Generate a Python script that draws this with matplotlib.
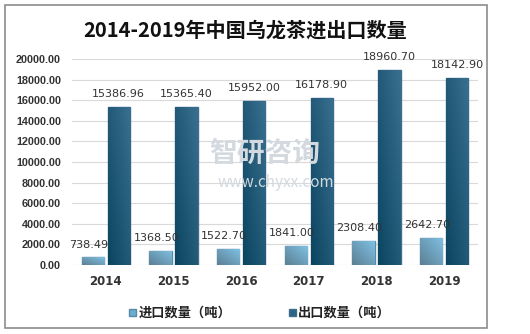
import matplotlib.pyplot as plt
import numpy as np
from matplotlib.patches import Rectangle
from matplotlib.colors import LinearSegmentedColormap

plt.rcParams['font.family'] = ['Noto Sans CJK SC', 'DejaVu Sans']

years = ['2014', '2015', '2016', '2017', '2018', '2019']
imports = [738.49, 1368.50, 1522.70, 1841.00, 2308.40, 2642.70]
exports = [15386.96, 15365.40, 15952.00, 16178.90, 18960.70, 18142.90]
yticks = [0, 2000, 4000, 6000, 8000, 10000, 12000, 14000, 16000, 18000, 20000]


def gradient_bars(ax, bars, c0, c1):
    # fill each bar with a diagonal gradient clipped to its outline
    grad = np.linspace(0, 1, 64)
    img = (grad[None, :] + grad[:, None]) / 2
    cmap = LinearSegmentedColormap.from_list('g', [c0, c1])
    for b in bars:
        x, y = b.get_x(), b.get_y()
        w, h = b.get_width(), b.get_height()
        im = ax.imshow(img, extent=[x, x + w, y, y + h], cmap=cmap,
                       aspect='auto', origin='lower', zorder=b.get_zorder())
        im.set_clip_path(b)
        b.set_facecolor('none')


fig = plt.figure(figsize=(5.30, 3.34), dpi=100)
fig.patches.append(Rectangle((5 / 530, 1 - 328 / 334), 482 / 530, 323 / 334,
                             transform=fig.transFigure, fill=False,
                             edgecolor='#8c8c8c', linewidth=1.2))

ax = fig.add_axes([72 / 530, 1 - 265 / 334, 406 / 530, 206 / 334])
x = np.arange(len(years))
w = 0.33
b1 = ax.bar(x - 0.19, imports, w, color='#6aaed0', edgecolor='#5a8aa5',
            linewidth=1, zorder=3, label='进口数量（吨）')
b2 = ax.bar(x + 0.19, exports, w, color='#2a6384', edgecolor='#3e6f8c',
            linewidth=1, zorder=3, label='出口数量（吨）')
gradient_bars(ax, b1, '#5c7f93', '#7fc0e3')
gradient_bars(ax, b2, '#0a4560', '#3a6f90')

for xi, v in zip(x, imports):
    ax.text(xi - 0.25, v + 1250, '%.2f' % v, ha='center', va='center',
            fontsize=8, color='#333333', family='DejaVu Sans', zorder=5)
for xi, v in zip(x, exports):
    ax.text(xi + 0.19, v + 1250, '%.2f' % v, ha='center', va='center',
            fontsize=8, color='#333333', family='DejaVu Sans', zorder=5)

ax.set_xlim(-0.5, 5.5)
ax.set_ylim(0, 20000)
ax.set_yticks(yticks)
ax.set_yticklabels(['%.2f' % t for t in yticks], fontsize=7.8,
                   fontweight='bold', color='#333333',
                   family='Liberation Sans')
ax.set_xticks(x)
ax.set_xticklabels(years, fontsize=8.5, fontweight='bold', color='#333333',
                   family='DejaVu Sans')
ax.tick_params(axis='y', length=0, pad=8)
ax.tick_params(axis='x', length=0, pad=7)
ax.grid(axis='y', color='#d9d9d9', linewidth=0.8, zorder=0)
for s in ax.spines.values():
    s.set_visible(False)

# watermark
fig.text(0.5, 0.54, '智研咨询', fontsize=20, color='#d3d9de', ha='center',
         va='center', fontweight='bold', zorder=0)
fig.text(0.52, 0.455, 'www.chyxx.com', fontsize=11, color='#d3d9de',
         ha='center', va='center', zorder=0)

fig.text(245 / 530, 1 - 30 / 334, '2014-2019年中国乌龙茶进出口数量',
         fontsize=14.5, fontweight='bold', ha='center', va='center',
         color='#111111')

leg = fig.legend([b1[0], b2[0]], ['进口数量（吨）', '出口数量（吨）'],
                 loc='center', bbox_to_anchor=(260 / 530, 1 - 313 / 334),
                 ncol=2, frameon=False, fontsize=9.5, handlelength=0.5,
                 handleheight=0.5, columnspacing=4.4, handletextpad=0.2)
for t in leg.get_texts():
    t.set_fontweight('bold')
    t.set_color('#222222')
leg.legend_handles[0].set_facecolor('#6aaed0')
leg.legend_handles[1].set_facecolor('#2a6384')

fig.savefig('out.png', dpi=100)
